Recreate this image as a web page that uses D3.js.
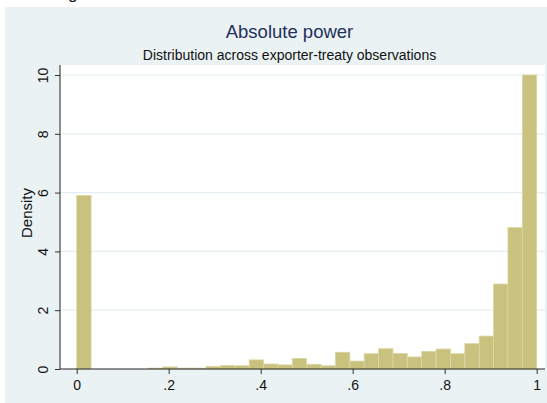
<!DOCTYPE html>
<html>
<head>
<meta charset="utf-8">
<script src="https://cdn.jsdelivr.net/npm/d3@7"></script>
<style>
  html, body { margin: 0; padding: 0; background: #fff; }
  svg { display: block; font-family: "Liberation Sans", Arial, sans-serif; }
</style>
</head>
<body>
<svg id="chart" width="547" height="403"></svg>
<script>
// Histogram of absolute power: 32 equal-width bins on [0, 1], density heights
const binCount = 32;
const binIndex = [0, 1, 2, 3, 4, 5, 6, 7, 8, 9, 10, 11, 12, 13, 14, 15,
                  16, 17, 18, 19, 20, 21, 22, 23, 24, 25, 26, 27, 28, 29, 30, 31];
const density = [5.9, 0, 0, 0, 0, 0.03, 0.07, 0.03, 0.03, 0.09, 0.12, 0.11, 0.31, 0.17, 0.14, 0.36,
                 0.16, 0.11, 0.57, 0.27, 0.52, 0.69, 0.53, 0.41, 0.6, 0.68, 0.52, 0.86, 1.12, 2.89, 4.81, 10.0];
const xTicks = [0, 0.2, 0.4, 0.6, 0.8, 1];
const xTickLabels = ["0", ".2", ".4", ".6", ".8", "1"];
const yTicks = [0, 2, 4, 6, 8, 10];
const yTickLabels = ["0", "2", "4", "6", "8", "10"];
const titleText = "Absolute power";
const subtitleText = "Distribution across exporter-treaty observations";
const yTitle = "Density";

const svg = d3.select("#chart");

// descender of the caption line above the graph
svg.append("text").attr("x", 68).attr("y", -1).attr("font-size", 17).attr("fill", "#111").text("g");

// graph region background
svg.append("rect").attr("x", 5).attr("y", 7).attr("width", 542).attr("height", 396).attr("fill", "#EAF2F3");

// plot region
const plot = { left: 60, top: 65, right: 545, bottom: 369 };
svg.append("rect")
  .attr("x", plot.left).attr("y", plot.top)
  .attr("width", plot.right - plot.left).attr("height", plot.bottom - plot.top)
  .attr("fill", "#fff");

const x = d3.scaleLinear().domain([0, 1]).range([76.7, 536.7]);
const y = d3.scaleLinear().domain([0, 10]).range([369, 75]);

// horizontal gridlines
svg.append("g").selectAll("line").data(yTicks.filter(d => d > 0)).join("line")
  .attr("x1", plot.left).attr("x2", plot.right)
  .attr("y1", d => y(d)).attr("y2", d => y(d))
  .attr("stroke", "#E4EDF1").attr("stroke-width", 1.2);

// bars
const bw = 1 / binCount;
svg.append("g").selectAll("rect").data(binIndex.filter(i => density[i] > 0)).join("rect")
  .attr("x", i => x(i * bw))
  .attr("width", i => x((i + 1) * bw) - x(i * bw))
  .attr("y", i => y(density[i]))
  .attr("height", i => y(0) - y(density[i]))
  .attr("fill", "#C9C17E")
  .attr("stroke", "#DCD6A6")
  .attr("stroke-width", 0.8);

// axes
const xAxis = d3.axisBottom(x).tickValues(xTicks)
  .tickFormat((d, i) => xTickLabels[i]).tickSize(5);
const gx = svg.append("g").attr("transform", `translate(0,${plot.bottom})`).call(xAxis);
gx.select(".domain").remove();
gx.selectAll(".tick line").attr("stroke", "#333");
gx.selectAll(".tick text").attr("font-size", 14).attr("fill", "#111")
  .attr("font-family", "Liberation Sans, Arial, sans-serif")
  .attr("y", 21).attr("dy", null);

svg.append("line").attr("x1", plot.left).attr("x2", plot.right)
  .attr("y1", plot.bottom).attr("y2", plot.bottom).attr("stroke", "#222").attr("stroke-width", 1);

const yAxis = d3.axisLeft(y).tickValues(yTicks)
  .tickFormat((d, i) => yTickLabels[i]).tickSize(5);
const gy = svg.append("g").attr("transform", `translate(${plot.left},0)`).call(yAxis);
gy.select(".domain").remove();
gy.selectAll(".tick line").attr("stroke", "#333");
gy.selectAll(".tick text")
  .attr("font-size", 14).attr("fill", "#111")
  .attr("font-family", "Liberation Sans, Arial, sans-serif")
  .attr("x", null).attr("dy", null)
  .attr("text-anchor", "middle")
  .attr("transform", "translate(-12,0) rotate(-90)");

svg.append("line").attr("x1", plot.left).attr("x2", plot.left)
  .attr("y1", plot.top).attr("y2", plot.bottom).attr("stroke", "#222").attr("stroke-width", 1);

// titles
svg.append("text").attr("x", 289.5).attr("y", 38).attr("text-anchor", "middle")
  .attr("font-size", 18.5).attr("fill", "#22305A").text(titleText);
svg.append("text").attr("x", 289.5).attr("y", 60).attr("text-anchor", "middle")
  .attr("font-size", 14).attr("fill", "#111").text(subtitleText);
svg.append("text").attr("text-anchor", "middle").attr("font-size", 15).attr("fill", "#111")
  .attr("transform", "translate(32,213) rotate(-90)").text(yTitle);
</script>
</body>
</html>
